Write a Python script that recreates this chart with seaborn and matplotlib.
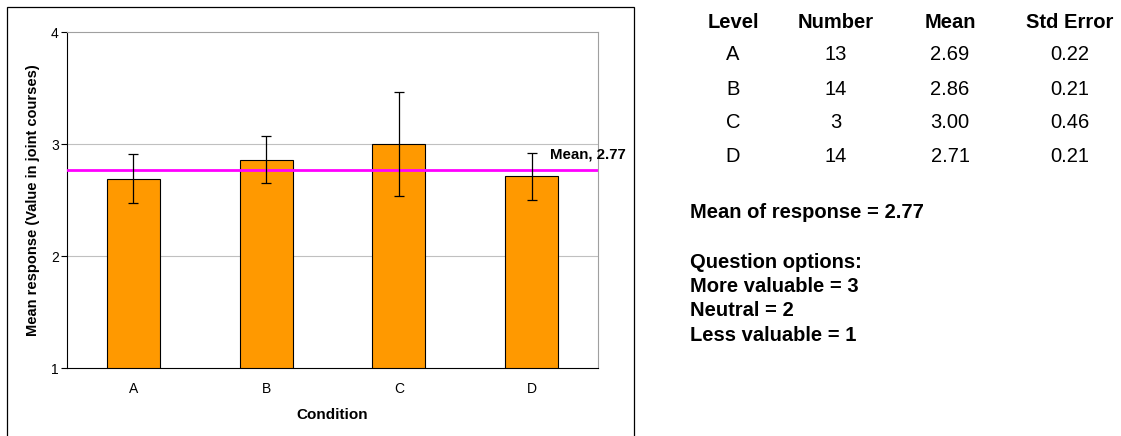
import numpy as np
import pandas as pd
import matplotlib
matplotlib.use('Agg')
import matplotlib.pyplot as plt
from matplotlib.patches import Rectangle
import seaborn as sns

# data
levels = ['A', 'B', 'C', 'D']
numbers = [13, 14, 3, 14]
means = [2.69, 2.86, 3.00, 2.71]
std_errors = [0.22, 0.21, 0.46, 0.21]
overall_mean = 2.77
options = ['More valuable = 3', 'Neutral = 2', 'Less valuable = 1']

sns.set_style('white')
plt.rcParams['font.family'] = ['Liberation Sans', 'DejaVu Sans']
plt.rcParams['text.color'] = 'black'
plt.rcParams['xtick.color'] = 'black'
plt.rcParams['ytick.color'] = 'black'
plt.rcParams['axes.labelcolor'] = 'black'

df = pd.DataFrame({'Condition': levels, 'Mean': means, 'SE': std_errors})

W, H = 1121, 436
fig = plt.figure(figsize=(W / 100, H / 100), dpi=100)
ax = fig.add_axes([67 / W, 1 - 368 / H, 531 / W, 336 / H])

# chart frame
fig.patches.append(Rectangle((7 / W, -0.01), 627 / W, 1 - 7 / H + 0.01,
                             transform=fig.transFigure, fill=False,
                             edgecolor='black', linewidth=0.9))

sns.barplot(data=df, x='Condition', y='Mean', color='#FF9900', width=0.40,
            edgecolor='black', linewidth=0.8, errorbar=None, saturation=1, ax=ax)
ax.errorbar(np.arange(len(levels)), df['Mean'], yerr=df['SE'], fmt='none',
            ecolor='black', elinewidth=0.9, capsize=3.6, capthick=0.9, zorder=5)

ax.axhline(overall_mean, color='#FF00FF', linewidth=2, zorder=4)
ax.text(3.14, overall_mean + 0.14, f'Mean, {overall_mean}', fontsize=10.8,
        fontweight='bold', ha='left', va='center', clip_on=False)

ax.set_ylim(1, 4)
ax.set_xlim(-0.5, 3.5)
ax.set_yticks([1, 2, 3, 4])
for y in [2, 3]:
    ax.axhline(y, color='#C0C0C0', linewidth=0.8, zorder=0)

ax.set_xticks([-0.5, 0.5, 1.5, 2.5, 3.5])
ax.set_xticklabels([])
ax.set_xticks(range(len(levels)), minor=True)
ax.set_xticklabels(levels, minor=True)
ax.tick_params(axis='x', which='major', direction='out', length=4, width=0.8, color='black')
ax.tick_params(axis='x', which='minor', length=0, pad=10, labelsize=10)
ax.tick_params(axis='y', direction='out', length=4, width=0.8, color='black',
               labelsize=10, pad=2, left=True)

for side in ['top', 'right']:
    ax.spines[side].set_color('#A0A0A0')
    ax.spines[side].set_linewidth(0.8)
for side in ['left', 'bottom']:
    ax.spines[side].set_color('black')
    ax.spines[side].set_linewidth(0.8)

ax.set_xlabel('Condition', fontsize=11, fontweight='bold', labelpad=9)
ax.set_ylabel('Mean response (Value in joint courses)', fontsize=10.5,
              fontweight='bold', labelpad=8)

# summary table on the right
col_x = [733, 836, 950, 1070]
headers = ['Level', 'Number', 'Mean', 'Std Error']
for cx, h in zip(col_x, headers):
    fig.text(cx / W, 1 - 22 / H, h, fontsize=14.5, fontweight='bold',
             ha='center', va='center')
for i, lev in enumerate(levels):
    yy = 1 - (55 + i * 34) / H
    row = [lev, str(numbers[i]), f'{means[i]:.2f}', f'{std_errors[i]:.2f}']
    for cx, val in zip(col_x, row):
        fig.text(cx / W, yy, val, fontsize=14.5, ha='center', va='center')

fig.text(690 / W, 1 - 212 / H, f'Mean of response = {overall_mean}',
         fontsize=14.5, fontweight='bold', ha='left', va='center')
fig.text(690 / W, 1 - 262 / H, 'Question options:', fontsize=14.5,
         fontweight='bold', ha='left', va='center')
for i, opt in enumerate(options):
    fig.text(690 / W, 1 - (286 + i * 24.5) / H, opt, fontsize=14.5,
             fontweight='bold', ha='left', va='center')

fig.savefig('out.png', dpi=100)
